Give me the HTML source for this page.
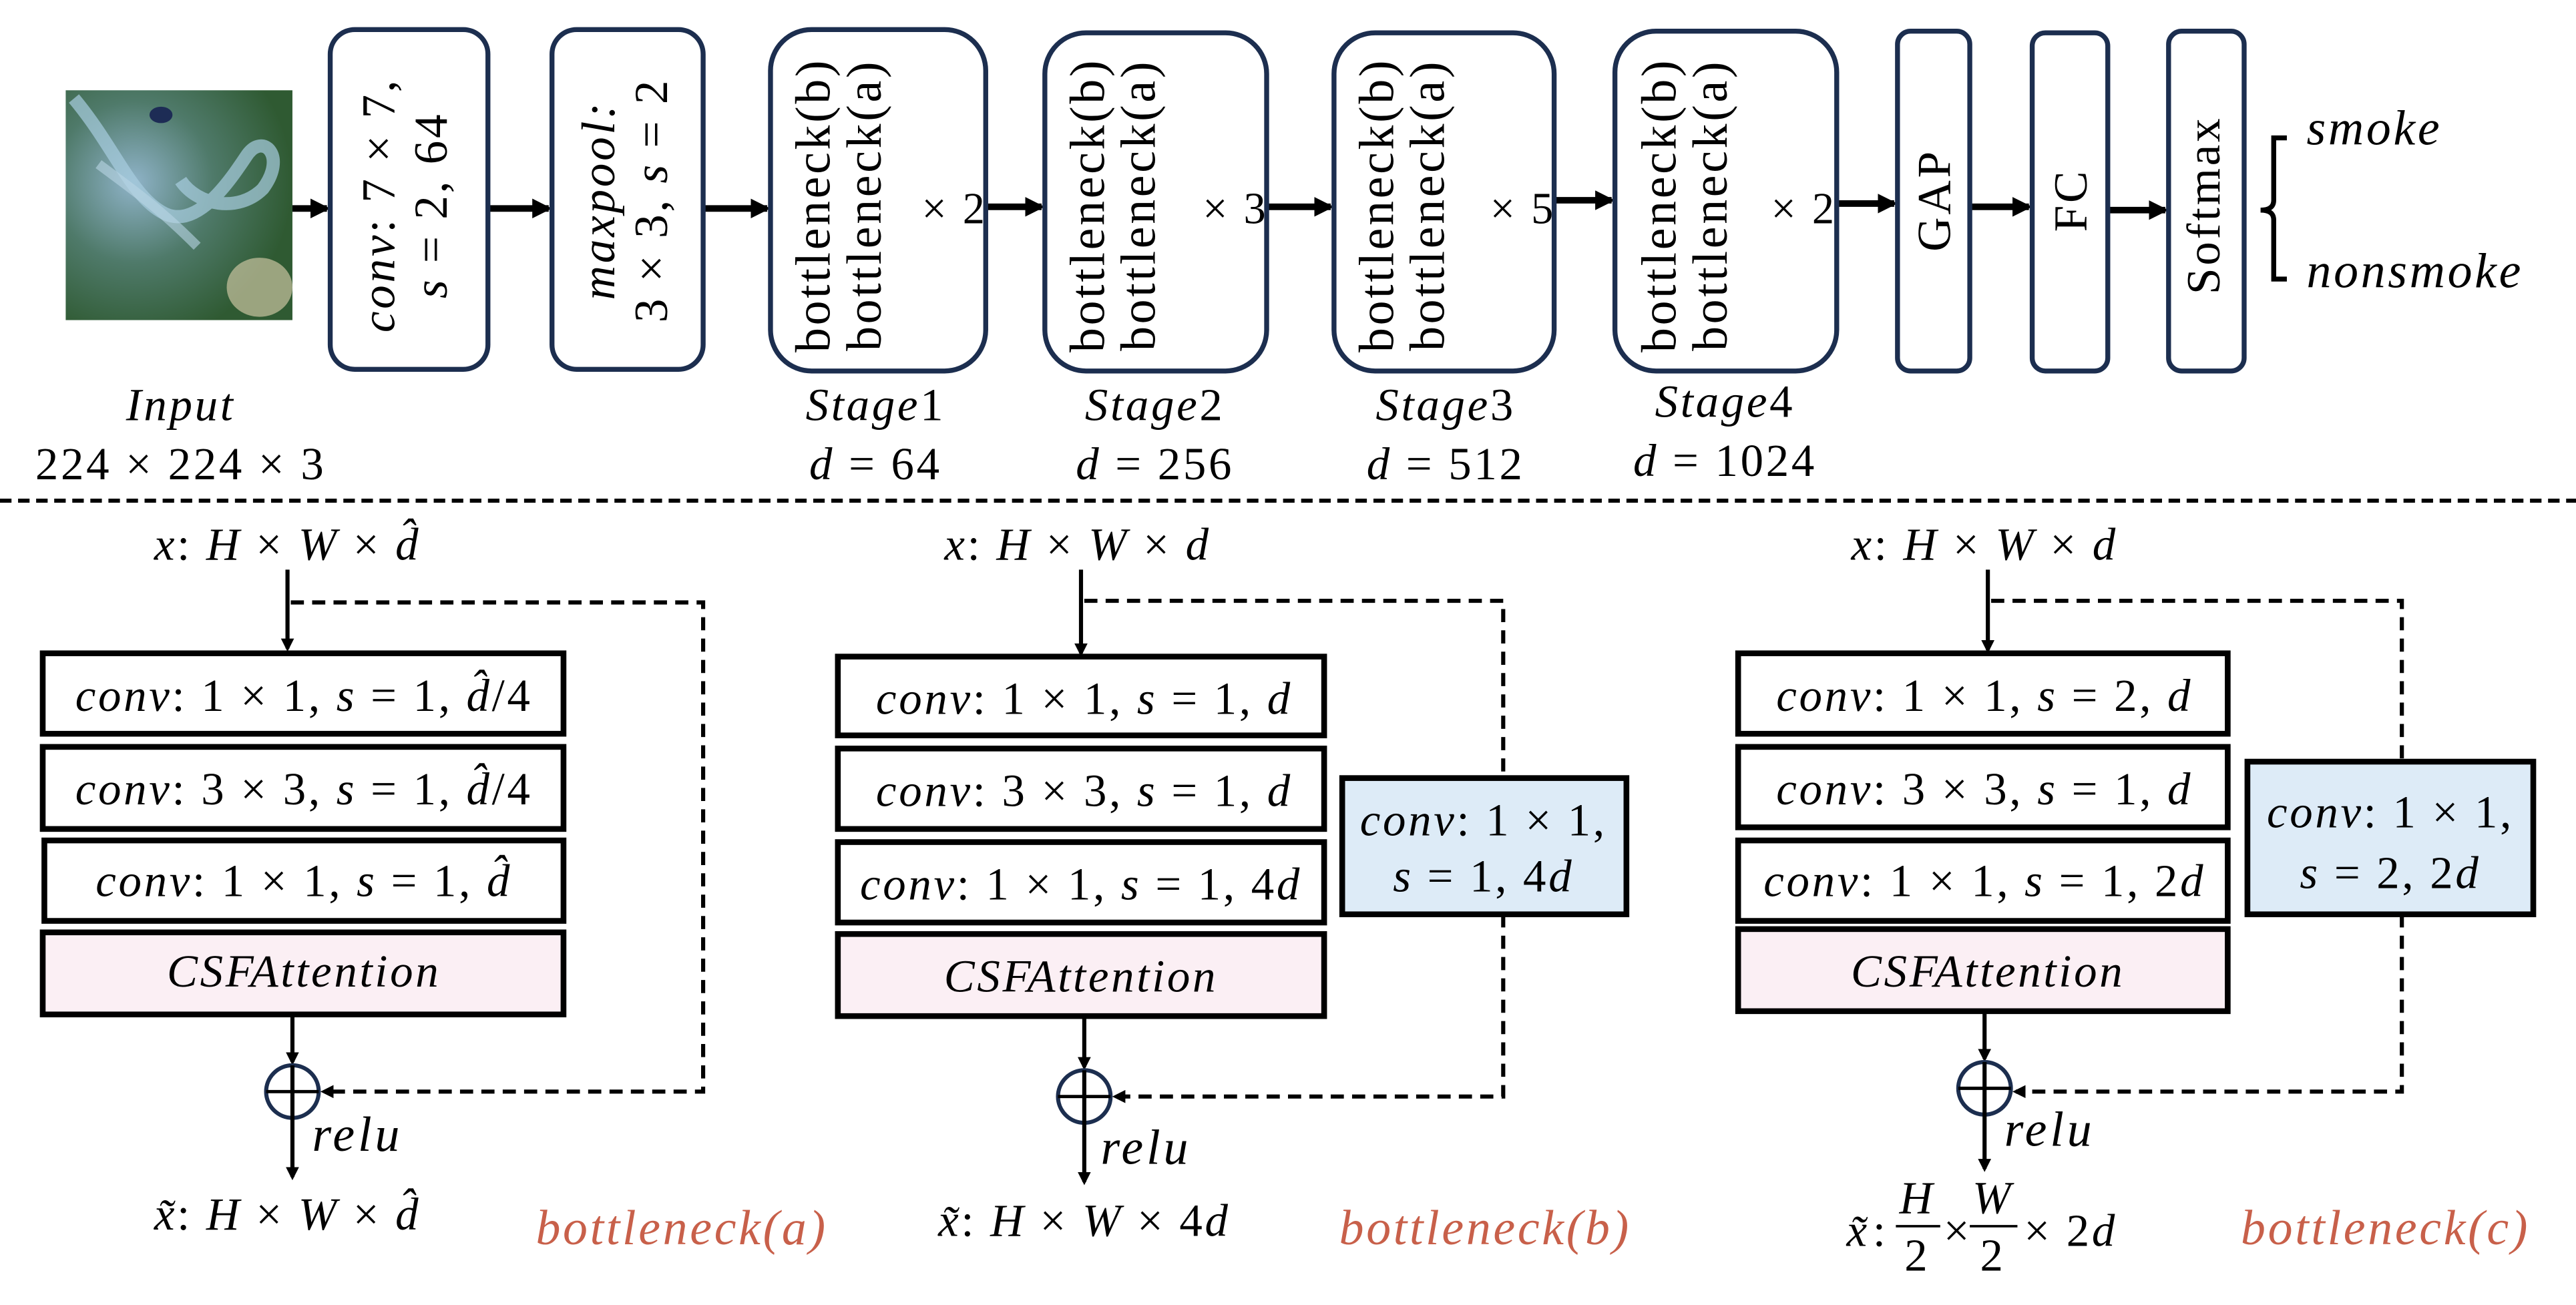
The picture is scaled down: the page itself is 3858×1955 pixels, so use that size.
<!DOCTYPE html>
<html><head><meta charset="utf-8"><style>
html,body{margin:0;padding:0;background:#fff;}
svg{display:block;}
text{font-family:"Liberation Serif",serif;fill:#000;letter-spacing:1.5px;}
.i{font-style:italic;}
</style></head><body>
<svg width="3858" height="1955" viewBox="0 0 1568 795" preserveAspectRatio="none" xmlns="http://www.w3.org/2000/svg">
<defs>
<marker id="ah" markerWidth="8" markerHeight="8" refX="6" refY="4" orient="auto" markerUnits="userSpaceOnUse"><path d="M0,0 L8,4 L0,8 Z" fill="#000"/></marker>
<marker id="ah2" markerWidth="12" markerHeight="12" refX="10" refY="6" orient="auto" markerUnits="userSpaceOnUse"><path d="M0,0 L12,6 L0,12 Z" fill="#000"/></marker>
<radialGradient id="g1" cx="0.3" cy="0.4" r="0.7"><stop offset="0" stop-color="#8fb3c8"/><stop offset="0.5" stop-color="#4f7a6a"/><stop offset="1" stop-color="#2f5a32"/></radialGradient>
</defs>
<rect x="40" y="55" width="138" height="140" fill="url(#g1)"/>
<path d="M45,60 C70,90 80,120 100,130 C120,140 140,110 150,95 C160,80 175,95 160,115 C145,130 120,125 110,110" stroke="#a8cde0" stroke-width="8" fill="none" opacity="0.7"/>
<path d="M60,100 C80,115 95,125 120,150" stroke="#b9d6e4" stroke-width="6" fill="none" opacity="0.6"/>
<ellipse cx="158" cy="175" rx="20" ry="18" fill="#c9c3a0" opacity="0.7"/>
<ellipse cx="98" cy="70" rx="7" ry="5" fill="#1d2c55"/>
<g stroke="#000" stroke-width="4" marker-end="url(#ah2)">
<line x1="178" y1="127" x2="199" y2="127"/>
<line x1="297" y1="127" x2="334" y2="127"/>
<line x1="428" y1="127" x2="467" y2="127"/>
<line x1="600" y1="126" x2="634" y2="126"/>
<line x1="771" y1="126" x2="810" y2="126"/>
<line x1="946" y1="122" x2="981" y2="122"/>
<line x1="1118" y1="124" x2="1153" y2="124"/>
<line x1="1199" y1="126" x2="1235" y2="126"/>
<line x1="1283" y1="128" x2="1318" y2="128"/>
</g>
<g fill="#fff" stroke="#1c2e4f" stroke-width="3">
<rect x="201" y="18" width="96" height="207" rx="15"/>
<rect x="336" y="18" width="92" height="207" rx="15"/>
<rect x="469" y="18" width="131" height="208" rx="25"/>
<rect x="636" y="20" width="135" height="206" rx="25"/>
<rect x="812" y="20" width="134" height="206" rx="25"/>
<rect x="983" y="19" width="135" height="207" rx="25"/>
<rect x="1155" y="19" width="44" height="207" rx="8"/>
<rect x="1237" y="20" width="46" height="206" rx="8"/>
<rect x="1320" y="19" width="46" height="207" rx="8"/>
</g>
<g font-size="29" style="letter-spacing:3px">
<text transform="rotate(-90 249 125)" x="249" y="116" text-anchor="middle"><tspan class="i">conv</tspan>: 7 × 7,</text>
<text transform="rotate(-90 249 125)" x="249" y="148" text-anchor="middle"><tspan class="i">s</tspan> = 2, 64</text>
<text transform="rotate(-90 382 122)" x="382" y="114" text-anchor="middle" class="i">maxpool:</text>
<text transform="rotate(-90 382 122)" x="382" y="146" text-anchor="middle">3 × 3, <tspan class="i">s</tspan> = 2</text>
</g>
<g font-size="30">
<text transform="rotate(-90 510 125)" x="510" y="120" text-anchor="middle">bottleneck(b)</text>
<text transform="rotate(-90 510 125)" x="510" y="151" text-anchor="middle">bottleneck(a)</text>
<text x="581" y="136" text-anchor="middle" font-size="27">× 2</text>
<text transform="rotate(-90 677 125)" x="677" y="120" text-anchor="middle">bottleneck(b)</text>
<text transform="rotate(-90 677 125)" x="677" y="151" text-anchor="middle">bottleneck(a)</text>
<text x="752" y="136" text-anchor="middle" font-size="27">× 3</text>
<text transform="rotate(-90 853 125)" x="853" y="120" text-anchor="middle">bottleneck(b)</text>
<text transform="rotate(-90 853 125)" x="853" y="151" text-anchor="middle">bottleneck(a)</text>
<text x="927" y="136" text-anchor="middle" font-size="27">× 5</text>
<text transform="rotate(-90 1025 125)" x="1025" y="120" text-anchor="middle">bottleneck(b)</text>
<text transform="rotate(-90 1025 125)" x="1025" y="151" text-anchor="middle">bottleneck(a)</text>
<text x="1098" y="136" text-anchor="middle" font-size="27">× 2</text>
<text transform="rotate(-90 1177 122)" x="1177" y="132" text-anchor="middle" font-size="29">GAP</text>
<text transform="rotate(-90 1260 122)" x="1260" y="132" text-anchor="middle" font-size="29">FC</text>
<text transform="rotate(-90 1343 125)" x="1343" y="133" text-anchor="middle" font-size="29">Softmax</text>
</g>
<path d="M1392,84 L1384,84 L1384,122 Q1384,128 1376,128 Q1384,128 1384,134 L1384,170 L1392,170" stroke="#000" stroke-width="3" fill="none"/>
<text x="1404" y="88" font-size="30" class="i">smoke</text>
<text x="1404" y="175" font-size="30" class="i">nonsmoke</text>
<g font-size="28" text-anchor="middle">
<text x="110" y="256" class="i">Input</text>
<text x="110" y="292">224 × 224 × 3</text>
<text x="533" y="256"><tspan class="i">Stage</tspan>1</text>
<text x="533" y="292"><tspan class="i">d</tspan> = 64</text>
<text x="703" y="256"><tspan class="i">Stage</tspan>2</text>
<text x="703" y="292"><tspan class="i">d</tspan> = 256</text>
<text x="880" y="256"><tspan class="i">Stage</tspan>3</text>
<text x="880" y="292"><tspan class="i">d</tspan> = 512</text>
<text x="1050" y="254"><tspan class="i">Stage</tspan>4</text>
<text x="1050" y="290"><tspan class="i">d</tspan> = 1024</text>
</g>
<line x1="0" y1="305" x2="1568" y2="305" stroke="#000" stroke-width="2.5" stroke-dasharray="7,4"/>

<!-- panel a -->
<g font-size="28">
<text x="175" y="341" text-anchor="middle"><tspan class="i">x</tspan>: <tspan class="i">H</tspan> × <tspan class="i">W</tspan> × <tspan class="i">d̂</tspan></text>
<line x1="175" y1="347" x2="175" y2="395" stroke="#000" stroke-width="2.5" marker-end="url(#ah)"/>
<polyline points="177,367 428,367 428,665 197,665" fill="none" stroke="#000" stroke-width="2.5" stroke-dasharray="8,5" marker-end="url(#ah)"/>
<g stroke="#000" stroke-width="3.5" fill="#fff">
<rect x="26" y="398" width="317" height="49"/>
<rect x="26" y="455" width="317" height="50"/>
<rect x="27" y="512" width="316" height="49"/>
<rect x="26" y="568" width="317" height="50" fill="#fbeff4"/>
</g>
<text x="185" y="433" text-anchor="middle"><tspan class="i">conv</tspan>: 1 × 1, <tspan class="i">s</tspan> = 1, <tspan class="i">d̂</tspan>/4</text>
<text x="185" y="490" text-anchor="middle"><tspan class="i">conv</tspan>: 3 × 3, <tspan class="i">s</tspan> = 1, <tspan class="i">d̂</tspan>/4</text>
<text x="185" y="546" text-anchor="middle"><tspan class="i">conv</tspan>: 1 × 1, <tspan class="i">s</tspan> = 1, <tspan class="i">d̂</tspan></text>
<text x="185" y="601" text-anchor="middle" class="i">CSFAttention</text>
<line x1="178" y1="618" x2="178" y2="647" stroke="#000" stroke-width="2.5" marker-end="url(#ah)"/>
<circle cx="178" cy="665" r="16" fill="none" stroke="#1c2e4f" stroke-width="2.5"/>
<line x1="162" y1="665" x2="194" y2="665" stroke="#000" stroke-width="2"/>
<line x1="178" y1="649" x2="178" y2="717" stroke="#000" stroke-width="2.5" marker-end="url(#ah)"/>
<text x="190" y="701" class="i" font-size="30" style="letter-spacing:2px">relu</text>
<text x="175" y="749" text-anchor="middle"><tspan class="i">x̃</tspan>: <tspan class="i">H</tspan> × <tspan class="i">W</tspan> × <tspan class="i">d̂</tspan></text>
<text x="415" y="758" text-anchor="middle" class="i" font-size="30" style="fill:#c8604a">bottleneck(a)</text>
</g>

<!-- panel b -->
<g font-size="28">
<text x="656" y="341" text-anchor="middle"><tspan class="i">x</tspan>: <tspan class="i">H</tspan> × <tspan class="i">W</tspan> × <tspan class="i">d</tspan></text>
<line x1="658" y1="347" x2="658" y2="398" stroke="#000" stroke-width="2.5" marker-end="url(#ah)"/>
<polyline points="660,366 915,366 915,474" fill="none" stroke="#000" stroke-width="2.5" stroke-dasharray="8,5"/>
<polyline points="915,557 915,668 679,668" fill="none" stroke="#000" stroke-width="2.5" stroke-dasharray="8,5" marker-end="url(#ah)"/>
<g stroke="#000" stroke-width="3.5" fill="#fff">
<rect x="510" y="400" width="296" height="48"/>
<rect x="510" y="456" width="296" height="49"/>
<rect x="510" y="513" width="296" height="49"/>
<rect x="510" y="569" width="296" height="50" fill="#fbeff4"/>
<rect x="817" y="474" width="173" height="83" fill="#ddebf7"/>
</g>
<text x="660" y="435" text-anchor="middle"><tspan class="i">conv</tspan>: 1 × 1, <tspan class="i">s</tspan> = 1, <tspan class="i">d</tspan></text>
<text x="660" y="491" text-anchor="middle"><tspan class="i">conv</tspan>: 3 × 3, <tspan class="i">s</tspan> = 1, <tspan class="i">d</tspan></text>
<text x="658" y="548" text-anchor="middle"><tspan class="i">conv</tspan>: 1 × 1, <tspan class="i">s</tspan> = 1, 4<tspan class="i">d</tspan></text>
<text x="658" y="604" text-anchor="middle" class="i">CSFAttention</text>
<text x="903" y="509" text-anchor="middle"><tspan class="i">conv</tspan>: 1 × 1,</text>
<text x="903" y="543" text-anchor="middle"><tspan class="i">s</tspan> = 1, 4<tspan class="i">d</tspan></text>
<line x1="660" y1="619" x2="660" y2="650" stroke="#000" stroke-width="2.5" marker-end="url(#ah)"/>
<circle cx="660" cy="668" r="16" fill="none" stroke="#1c2e4f" stroke-width="2.5"/>
<line x1="644" y1="668" x2="676" y2="668" stroke="#000" stroke-width="2"/>
<line x1="660" y1="652" x2="660" y2="720" stroke="#000" stroke-width="2.5" marker-end="url(#ah)"/>
<text x="670" y="709" class="i" font-size="30" style="letter-spacing:2px">relu</text>
<text x="660" y="753" text-anchor="middle"><tspan class="i">x̃</tspan>: <tspan class="i">H</tspan> × <tspan class="i">W</tspan> × 4<tspan class="i">d</tspan></text>
<text x="904" y="758" text-anchor="middle" class="i" font-size="30" style="fill:#c8604a">bottleneck(b)</text>
</g>

<!-- panel c -->
<g font-size="28">
<text x="1208" y="341" text-anchor="middle"><tspan class="i">x</tspan>: <tspan class="i">H</tspan> × <tspan class="i">W</tspan> × <tspan class="i">d</tspan></text>
<line x1="1210" y1="347" x2="1210" y2="396" stroke="#000" stroke-width="2.5" marker-end="url(#ah)"/>
<polyline points="1212,366 1462,366 1462,464" fill="none" stroke="#000" stroke-width="2.5" stroke-dasharray="8,5"/>
<polyline points="1462,557 1462,665 1227,665" fill="none" stroke="#000" stroke-width="2.5" stroke-dasharray="8,5" marker-end="url(#ah)"/>
<g stroke="#000" stroke-width="3.5" fill="#fff">
<rect x="1058" y="398" width="298" height="49"/>
<rect x="1058" y="455" width="298" height="49"/>
<rect x="1058" y="512" width="298" height="49"/>
<rect x="1058" y="566" width="298" height="50" fill="#fbeff4"/>
<rect x="1368" y="464" width="174" height="93" fill="#ddebf7"/>
</g>
<text x="1208" y="433" text-anchor="middle"><tspan class="i">conv</tspan>: 1 × 1, <tspan class="i">s</tspan> = 2, <tspan class="i">d</tspan></text>
<text x="1208" y="490" text-anchor="middle"><tspan class="i">conv</tspan>: 3 × 3, <tspan class="i">s</tspan> = 1, <tspan class="i">d</tspan></text>
<text x="1208" y="546" text-anchor="middle"><tspan class="i">conv</tspan>: 1 × 1, <tspan class="i">s</tspan> = 1, 2<tspan class="i">d</tspan></text>
<text x="1210" y="601" text-anchor="middle" class="i">CSFAttention</text>
<text x="1455" y="504" text-anchor="middle"><tspan class="i">conv</tspan>: 1 × 1,</text>
<text x="1455" y="541" text-anchor="middle"><tspan class="i">s</tspan> = 2, 2<tspan class="i">d</tspan></text>
<line x1="1208" y1="616" x2="1208" y2="645" stroke="#000" stroke-width="2.5" marker-end="url(#ah)"/>
<circle cx="1208" cy="663" r="16" fill="none" stroke="#1c2e4f" stroke-width="2.5"/>
<line x1="1192" y1="663" x2="1224" y2="663" stroke="#000" stroke-width="2"/>
<line x1="1208" y1="647" x2="1208" y2="712" stroke="#000" stroke-width="2.5" marker-end="url(#ah)"/>
<text x="1220" y="698" class="i" font-size="30" style="letter-spacing:2px">relu</text>
<text x="1124" y="759" class="i">x̃</text><text x="1140" y="759">:</text>
<text x="1167" y="739" text-anchor="middle" class="i">H</text>
<line x1="1154" y1="747" x2="1181" y2="747" stroke="#000" stroke-width="1.5"/>
<text x="1167" y="774" text-anchor="middle">2</text>
<text x="1183" y="759">×</text>
<text x="1213" y="739" text-anchor="middle" class="i">W</text>
<line x1="1199" y1="747" x2="1228" y2="747" stroke="#000" stroke-width="1.5"/>
<text x="1213" y="774" text-anchor="middle">2</text>
<text x="1232" y="759">× 2<tspan class="i">d</tspan></text>
<text x="1452" y="758" text-anchor="middle" class="i" font-size="30" style="fill:#c8604a">bottleneck(c)</text>
</g>
</svg>
</body></html>
